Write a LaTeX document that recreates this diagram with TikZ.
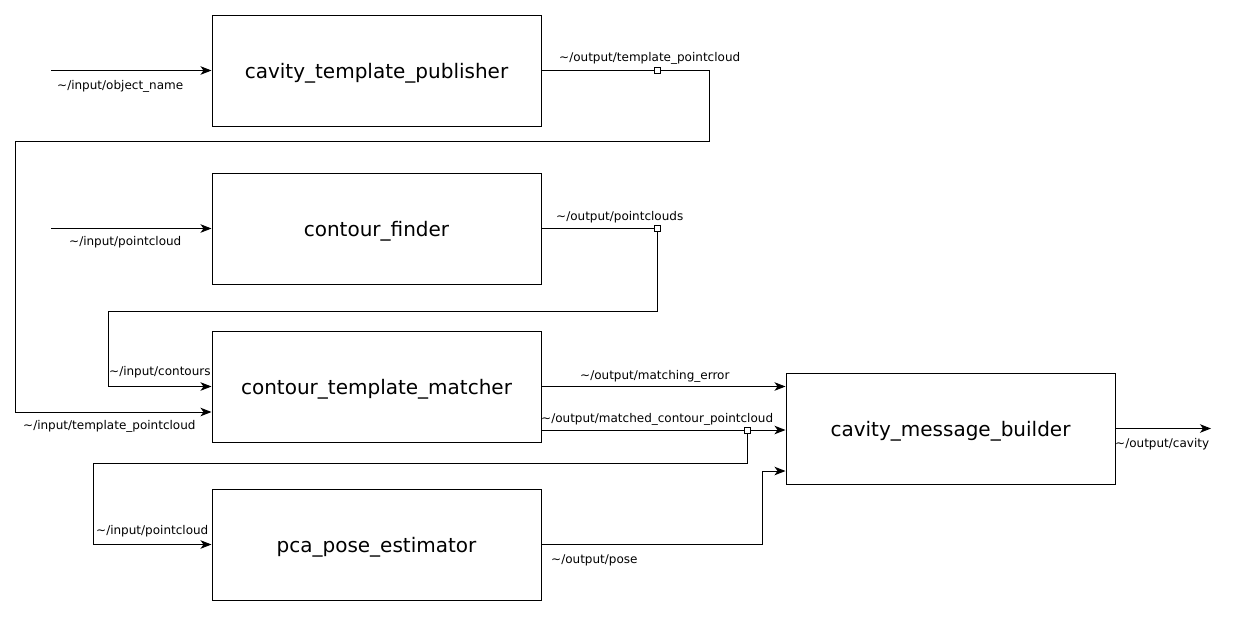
\documentclass[tikz,border=0pt]{standalone}
\usepackage{fontspec}
\setmainfont{DejaVu Sans}
\usetikzlibrary{arrows.meta}
\tikzset{
 blk/.style={draw,line width=1pt,minimum width=329pt,minimum height=111pt,inner sep=0pt,
  text height=18pt,text depth=2pt,font=\fontsize{20}{24}\selectfont},
 tap/.style={draw,line width=0.8pt,fill=white,minimum size=6pt,inner sep=0pt},
 lbl/.style={inner sep=0pt,anchor=west,yshift=-1pt,font=\fontsize{12}{14}\selectfont},
 wire/.style={line width=1pt},
 arr/.style={wire,-{Stealth[length=11pt,width=8.5pt,inset=3pt]}}
}
\begin{document}
\begin{tikzpicture}[x=1pt,y=-1pt]
 \useasboundingbox (0,0) rectangle (1257,616);
 % blocks
 \node[blk] (pub) at (376.5,70.5) {cavity\_template\_publisher};
 \node[blk] (cf) at (376.5,228.5) {contour\_finder};
 \node[blk] (mat) at (376.5,386.5) {contour\_template\_matcher};
 \node[blk] (pca) at (376.5,544.5) {pca\_pose\_estimator};
 \node[blk] (mb) at (950.5,428.5) {cavity\_message\_builder};
 % inputs
 \coordinate (objin) at (51,70.5);
 \coordinate (pcin) at (51,228.5);
 \draw[arr] (objin) -- (pub.west);
 \draw[arr] (pcin) -- (cf.west);
 % template pointcloud
 \node[tap] (tp1) at (657,70.5) {};
 \draw[wire] (pub.east) -- (tp1);
 \draw[arr] (tp1) -- (709,70.5) -- (709,141) -- (15,141) -- (15,412) -- ([yshift=-25.5pt]mat.west);
 % pointclouds
 \node[tap] (tp2) at (657,228.5) {};
 \draw[wire] (cf.east) -- (tp2);
 \draw[arr] (tp2) -- (657,311) -- (108,311) -- (108,386.5) -- (mat.west);
 % matcher outputs
 \draw[arr] (mat.east) -- (mat.east -| mb.west);
 \node[tap] (tp3) at (747,430) {};
 \draw[wire] ([yshift=-43.5pt]mat.east) -- (tp3);
 \draw[arr] (tp3) -- (tp3 -| mb.west);
 \draw[arr] (tp3) -- (747,463) -- (93,463) -- (93,544.5) -- (pca.west);
 % pose
 \draw[arr] (pca.east) -- (762,544.5) -- (762,471) -- ([yshift=-42.5pt]mb.west);
 % cavity
 \coordinate (cavout) at (1211,428.5);
 \draw[arr] (mb.east) -- (cavout);
 % labels
 \node[lbl] (l1) at (57,85) {\textasciitilde/input/object\_name};
 \node[lbl] (l2) at (69,241) {\textasciitilde/input/pointcloud};
 \node[lbl] (l3) at (559,57) {\textasciitilde/output/template\_pointcloud};
 \node[lbl] (l4) at (556,216) {\textasciitilde/output/pointclouds};
 \node[lbl] (l5) at (109,371) {\textasciitilde/input/contours};
 \node[lbl] (l6) at (23,425) {\textasciitilde/input/template\_pointcloud};
 \node[lbl] (l7) at (580,375) {\textasciitilde/output/matching\_error};
 \node[lbl] (l8) at (541,418) {\textasciitilde/output/matched\_contour\_pointcloud};
 \node[lbl] (l9) at (96,530) {\textasciitilde/input/pointcloud};
 \node[lbl] (l10) at (551,559) {\textasciitilde/output/pose};
 \node[lbl] (l11) at (1115,443) {\textasciitilde/output/cavity};
\end{tikzpicture}
\end{document}
